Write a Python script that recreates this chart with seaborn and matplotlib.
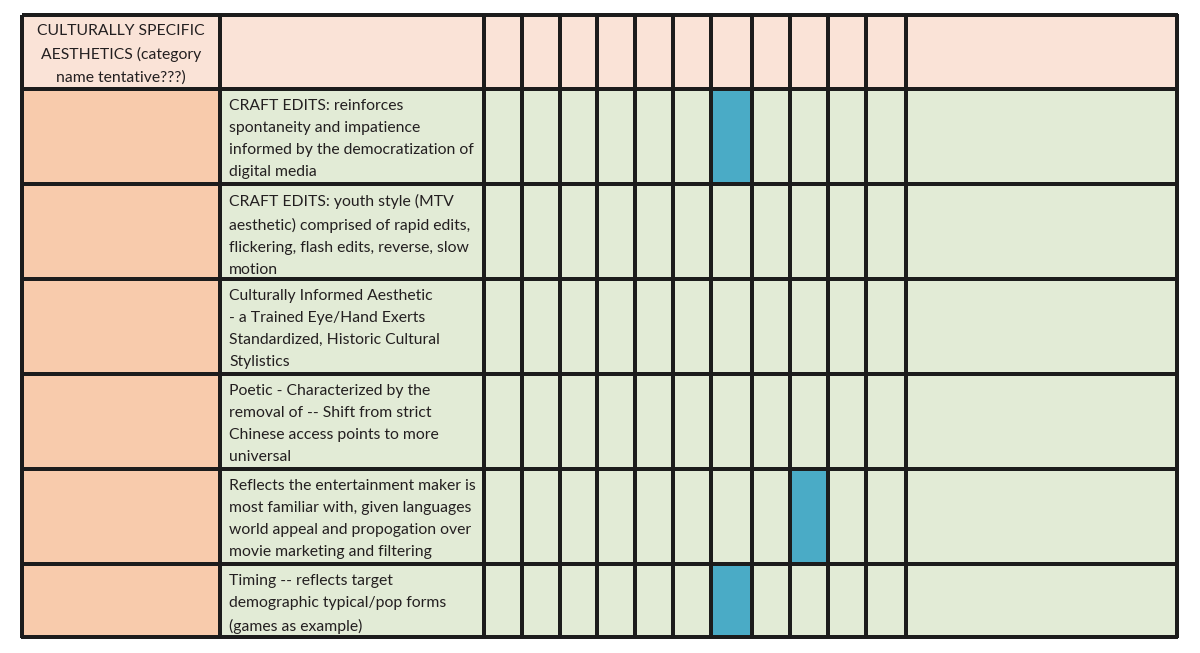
import matplotlib.pyplot as plt
import numpy as np
import seaborn as sns
from matplotlib.colors import ListedColormap

# data
header_text = "CULTURALLY SPECIFIC\nAESTHETICS (category\nname tentative???)"
row_texts = [
    "CRAFT EDITS: reinforces\nspontaneity and impatience\ninformed by the democratization of\ndigital media",
    "CRAFT EDITS: youth style (MTV\naesthetic) comprised of rapid edits,\nflickering, flash edits, reverse, slow\nmotion",
    "Culturally Informed Aesthetic\n- a Trained Eye/Hand Exerts\nStandardized, Historic Cultural\nStylistics",
    "Poetic - Characterized by the\nremoval of -- Shift from strict\nChinese access points to more\nuniversal",
    "Reflects the entertainment maker is\nmost familiar with, given languages\nworld appeal and propogation over\nmovie marketing and filtering",
    "Timing -- reflects target\ndemographic typical/pop forms\n(games as example)",
]
# which of the 11 narrow columns is marked in each row (0 = none)
marked = [7, 0, 0, 0, 9, 7]
n_marks = 11

# layout (pixels)
x_edges = [22, 220, 484, 522, 560, 597, 635, 673, 711, 752, 790, 828, 866, 906, 1177]
y_edges = [15, 89, 184, 279, 374, 469, 564, 637]

sns.set_theme(style="white")
plt.rcParams['font.family'] = ['Lato', 'DejaVu Sans']

# 0 header, 1 label column, 2 body, 3 marked
n_rows = len(row_texts) + 1
n_cols = n_marks + 3
grid = np.full((n_rows, n_cols), 2)
grid[0, :] = 0
grid[1:, 0] = 1
for i, m in enumerate(marked):
    if m:
        grid[i + 1, m + 1] = 3

cmap = ListedColormap(["#fae3d7", "#f8cbac", "#e2ebd6", "#4aabc6"])

fig = plt.figure(figsize=(12, 6.53), dpi=100)
ax = fig.add_axes([0, 0, 1, 1])
ax.pcolormesh(x_edges, y_edges, grid, cmap=cmap, vmin=-0.5, vmax=3.5,
              edgecolors="#1c1c1c", linewidth=1.5)
ax.set_xlim(0, 1200)
ax.set_ylim(653, 0)
ax.axis("off")

ax.text((x_edges[0] + x_edges[1]) / 2, y_edges[0] + 9, header_text,
        ha="center", va="top", fontsize=11.3, linespacing=1.72, color="#231f20")
for i, t in enumerate(row_texts):
    ax.text(x_edges[1] + 9, y_edges[i + 1] + 10, t, ha="left", va="top",
            fontsize=11.3, linespacing=1.72, color="#231f20")

fig.savefig("out.png", dpi=100)
